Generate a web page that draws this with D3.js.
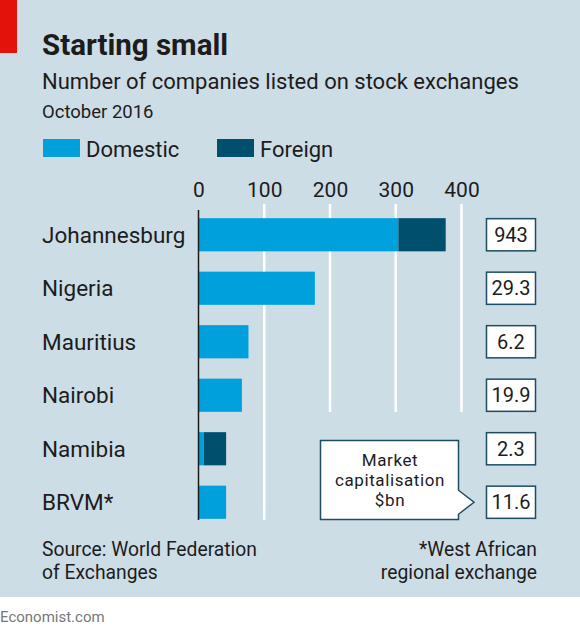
<!DOCTYPE html>
<html>
<head>
<meta charset="utf-8">
<script src="https://cdn.jsdelivr.net/npm/d3@7"></script>
<style>
  body { margin: 0; background: #fff; }
  text { font-family: Roboto, "Noto Sans", sans-serif; fill: #1c1c1c; }
</style>
</head>
<body>
<div id="chart"></div>
<script>
// data
var exchanges = ["Johannesburg", "Nigeria", "Mauritius", "Nairobi", "Namibia", "BRVM*"];
var domestic = [304, 177, 76, 66, 8, 42];
var foreign = [72, 0, 0, 0, 34, 0];
var marketCap = ["943", "29.3", "6.2", "19.9", "2.3", "11.6"];
var ticks = [0, 100, 200, 300, 400];

var W = 580, H = 634;
var svg = d3.select("#chart").append("svg")
    .attr("width", W)
    .attr("height", H);

// background panel
svg.append("rect").attr("x", 0).attr("y", 0).attr("width", W).attr("height", 597).attr("fill", "#cddde6");
svg.append("rect").attr("x", 0).attr("y", 0).attr("width", 17).attr("height", 53).attr("fill", "#e3120b");

// titles
svg.append("text").attr("x", 42).attr("y", 55).text("Starting small")
    .style("font-size", "29.5px").style("font-weight", "bold");
svg.append("text").attr("x", 42).attr("y", 89).text("Number of companies listed on stock exchanges")
    .style("font-size", "22px");
svg.append("text").attr("x", 42).attr("y", 118).text("October 2016")
    .style("font-size", "18.5px");

// legend
var legend = [["Domestic", "#00a0dd", 43], ["Foreign", "#004f6d", 217]];
legend.forEach(function(l) {
  svg.append("rect").attr("x", l[2]).attr("y", 139).attr("width", 37).attr("height", 18).attr("fill", l[1]);
  svg.append("text").attr("x", l[2] + 43).attr("y", 157).text(l[0]).style("font-size", "22px");
});

// scales
var x = d3.scaleLinear().domain([0, 400]).range([198.5, 461.5]);
var y = d3.scaleBand().domain(exchanges).range([208, 529]).paddingInner(0.38).paddingOuter(0.19);

// gridlines: the 100 line runs full height, others stop above the callout
svg.append("g").selectAll("line")
  .data(ticks.slice(1))
  .enter().append("line")
    .attr("x1", function(d) { return x(d); })
    .attr("x2", function(d) { return x(d); })
    .attr("y1", 204)
    .attr("y2", function(d) { return d == 100 ? 520 : 412; })
    .attr("stroke", "#fff")
    .attr("stroke-width", 2.5);

// tick labels on top
var axis = svg.append("g")
    .attr("transform", "translate(0,197)")
    .call(d3.axisTop(x).tickValues(ticks).tickSize(0).tickPadding(0));
axis.select(".domain").remove();
axis.selectAll("text").style("font-size", "21px").attr("dy", 0)
    .style("font-family", "Roboto, 'Noto Sans', sans-serif").attr("fill", "#1c1c1c");

// bars
var rows = svg.append("g").selectAll("g")
  .data(exchanges)
  .enter().append("g");

rows.append("rect")
    .attr("x", x(0))
    .attr("y", function(d) { return y(d); })
    .attr("width", function(d, i) { return x(domestic[i]) - x(0); })
    .attr("height", y.bandwidth())
    .attr("fill", "#00a0dd");

rows.append("rect")
    .attr("x", function(d, i) { return x(domestic[i]); })
    .attr("y", function(d) { return y(d); })
    .attr("width", function(d, i) { return x(domestic[i] + foreign[i]) - x(domestic[i]); })
    .attr("height", y.bandwidth())
    .attr("fill", "#004f6d");

rows.append("text")
    .attr("x", 42)
    .attr("y", function(d) { return y(d) + y.bandwidth() / 2; })
    .attr("dy", "0.36em")
    .text(function(d) { return d; })
    .style("font-size", "22.5px");

// market cap boxes
rows.append("rect")
    .attr("x", 486.5)
    .attr("y", function(d) { return y(d) + 0.5; })
    .attr("width", 49)
    .attr("height", y.bandwidth() - 1)
    .attr("fill", "#fff")
    .attr("stroke", "#1d4d63")
    .attr("stroke-width", 1.5);

rows.append("text")
    .attr("x", 511)
    .attr("y", function(d) { return y(d) + y.bandwidth() / 2; })
    .attr("dy", "0.36em")
    .attr("text-anchor", "middle")
    .text(function(d, i) { return marketCap[i]; })
    .style("font-size", "20px");

// y axis line
svg.append("line")
    .attr("x1", x(0)).attr("x2", x(0))
    .attr("y1", 210).attr("y2", 520)
    .attr("stroke", "#1c1c1c").attr("stroke-width", 1.5);

// callout
var cy = y("BRVM*") + y.bandwidth() / 2;
svg.append("path")
    .attr("d", "M320.5,440.5 H458.5 V" + (cy - 12) + " L474," + cy + " L458.5," + (cy + 12) + " V519.5 H320.5 Z")
    .attr("fill", "#fff")
    .attr("stroke", "#1d4d63")
    .attr("stroke-width", 1.5);
["Market", "capitalisation", "$bn"].forEach(function(t, i) {
  svg.append("text").attr("x", 390).attr("y", 466 + i * 20).attr("text-anchor", "middle")
      .text(t).style("font-size", "17px").style("letter-spacing", "0.6px");
});

// footer
svg.append("text").attr("x", 42).attr("y", 556).text("Source: World Federation").style("font-size", "19.3px");
svg.append("text").attr("x", 42).attr("y", 579).text("of Exchanges").style("font-size", "19.3px");
svg.append("text").attr("x", 537).attr("y", 556).attr("text-anchor", "end").text("*West African").style("font-size", "19.3px");
svg.append("text").attr("x", 537).attr("y", 579).attr("text-anchor", "end").text("regional exchange").style("font-size", "19.3px");
svg.append("text").attr("x", 0).attr("y", 622).text("Economist.com").style("font-size", "15px").style("fill", "#777");
</script>
</body>
</html>
